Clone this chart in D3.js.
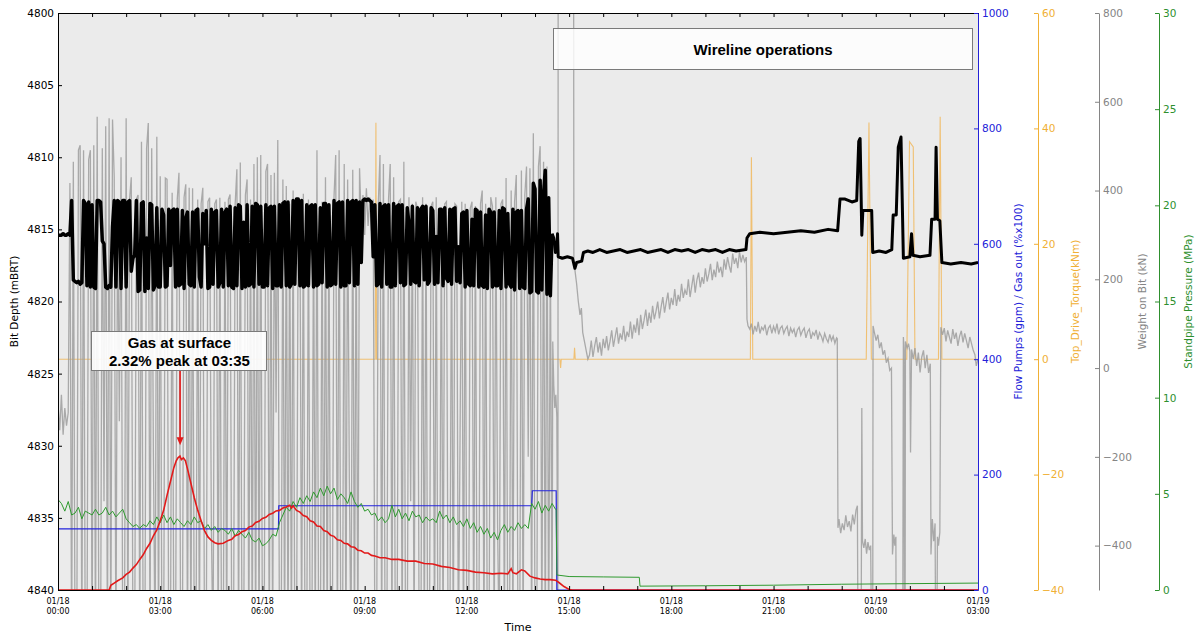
<!DOCTYPE html>
<html>
<head>
<meta charset="utf-8">
<script src="https://cdn.jsdelivr.net/npm/d3@7"></script>
<style>
  body { margin: 0; background: #fff; }
  text { font-family: "DejaVu Sans", sans-serif; }
</style>
</head>
<body>
<svg id="chart" width="1198" height="635"></svg>
<script>
// sample step (hours) of the regularly logged stretches
const drillStep = 0.05;

// Bit depth (mBRT) while drilling, from 00:00
const depthDrill = [
  4815.4,4815.4,4815.4,4815.3,4815.4,4815.4,4815.3,
  4815.4,4813.0,4818.5,4818.6,4818.7,4818.6,4818.8,4818.7,4813.0,4813.2,
  4818.9,4813.1,4819.0,4813.3,4819.0,4819.1,4813.0,4813.0,4813.1,4815.8,
  4816.0,4819.0,4819.1,4818.9,4819.0,4814.8,4813.0,4819.0,4813.0,4813.1,
  4819.1,4813.0,4813.0,4819.0,4813.1,4813.0,4817.9,4817.0,4816.8,4813.0,
  4819.3,4819.2,4813.2,4813.1,4819.3,4815.6,4819.1,4813.2,4813.3,4819.2,
  4818.9,4813.5,4819.0,4819.0,4813.6,4814.0,4819.0,4818.9,4813.6,4817.5,
  4813.7,4813.6,4819.0,4813.6,4818.9,4818.8,4813.7,4819.1,4814.2,4813.8,
  4818.8,4818.9,4813.8,4819.0,4813.7,4813.6,4818.3,4819.0,4813.9,4816.0,
  4813.7,4819.1,4819.0,4813.6,4818.8,4813.8,4813.7,4819.0,4818.7,4813.6,
  4819.0,4813.8,4813.6,4818.9,4813.4,4819.0,4819.1,4813.5,4818.9,4813.3,
  4813.4,4819.1,4814.5,4819.0,4813.3,4818.9,4818.8,4813.4,4819.0,4813.2,
  4813.3,4818.8,4813.4,4819.0,4819.0,4813.3,4818.9,4813.5,4813.4,4819.1,
  4813.4,4818.9,4818.9,4813.3,4819.0,4813.2,4813.1,4818.9,4813.1,4819.0,
  4818.8,4813.0,4818.8,4812.9,4812.9,4818.9,4813.0,4819.0,4818.9,4813.3,
  4818.9,4813.4,4813.3,4819.0,4813.3,4818.9,4818.8,4813.5,4818.7,4813.2,
  4813.2,4819.0,4813.3,4818.9,4818.8,4813.0,4818.8,4813.2,4813.1,4819.0,
  4813.1,4818.9,4818.9,4813.0,4818.7,4813.1,4813.0,4818.9,4813.0,4818.8,
  4813.1,4817.3,4813.0,4812.9,4813.0,4812.9,4813.0,4813.1,4816.9,4813.3,
  4818.9,4818.8,4813.2,4819.0,4813.4,4813.3,4818.8,4813.3,4819.0,4819.0,
  4813.2,4818.9,4813.4,4813.3,4818.7,4813.3,4818.9,4818.8,4813.5,4814.6,
  4818.8,4813.4,4818.6,4818.7,4813.5,4818.9,4813.6,4813.4,4818.5,4813.4,
  4818.8,4818.6,4813.5,4813.7,4818.8,4815.5,4818.7,4813.6,4813.6,4818.9,
  4813.5,4818.4,4818.6,4813.6,4818.8,4813.6,4813.5,4818.6,4816.2,4818.7,
  4813.9,4813.8,4819.0,4813.7,4818.8,4818.9,4814.3,4818.9,4813.6,4813.7,
  4819.0,4813.8,4818.9,4819.0,4814.0,4819.1,4813.6,4813.8,4819.0,4813.8,
  4818.9,4818.9,4813.7,4819.1,4813.5,4813.6,4819.0,4813.9,4818.8,4819.0,
  4813.6,4819.2,4813.8,4813.7,4819.1,4813.7,4819.0,4819.1,4813.6,4812.9,
  4819.4,4819.3,4811.8,4812.2,4819.3,4819.4,4811.6,4819.2,4812.5,4810.9,
  4819.5,4812.8,4819.6,4815.3
];

// Bit depth after pulling off bottom: [hour, mBRT]
const depthTrip = [
  [14.55,4815.6],[14.6,4816.6],[14.64,4816.5],[14.66,4815.3],[14.68,4816.9],[14.8,4817.0],
  [14.95,4816.9],[15.1,4817.0],[15.17,4817.7],[15.22,4817.3],[15.37,4817.2],[15.42,4816.6],
  [15.55,4816.5],[15.7,4816.6],[15.9,4816.4],[16.1,4816.6],[16.3,4816.5],[16.5,4816.4],
  [16.7,4816.6],[16.9,4816.5],[17.1,4816.4],[17.3,4816.6],[17.5,4816.5],[17.7,4816.4],
  [17.9,4816.6],[18.1,4816.4],[18.3,4816.5],[18.5,4816.4],[18.7,4816.6],[18.9,4816.4],
  [19.1,4816.5],[19.3,4816.4],[19.5,4816.6],[19.7,4816.4],[19.9,4816.5],[20.19,4816.4],
  [20.22,4815.6],[20.3,4815.3],[20.6,4815.2],[21.0,4815.3],[21.4,4815.2],[21.8,4815.1],
  [22.2,4815.2],[22.6,4815.0],[22.88,4815.1],[22.95,4812.9],[23.1,4812.9],[23.3,4813.1],
  [23.44,4813.0],[23.5,4808.9],[23.54,4808.7],[23.59,4815.4],[23.62,4813.7],[23.88,4813.7],
  [23.91,4816.6],[24.1,4816.5],[24.3,4816.6],[24.47,4816.4],[24.51,4814.0],[24.6,4814.0],
  [24.66,4809.3],[24.74,4808.6],[24.81,4817.0],[25.0,4816.9],[25.05,4815.3],[25.09,4816.8],
  [25.3,4816.9],[25.59,4816.8],[25.64,4814.3],[25.74,4814.3],[25.77,4809.3],[25.81,4814.3],
  [25.88,4814.4],[25.94,4817.3],[26.2,4817.4],[26.5,4817.3],[26.8,4817.4],[27,4817.3]
];

// Weight on bit (kN) while drilling, from 00:00
const wobDrill = [
  -80,-140,-60,-150,-90,-130,-100,
  417,-650,465,-650,-650,491,502,-650,491,-650,
  -650,470,491,-650,502,-650,566,-650,-650,495,
  -300,545,-650,563,-650,560,430,-650,380,-120,
  475,-650,-650,563,-650,380,430,-650,-650,380,
  390,-650,510,-650,-650,495,552,-650,495,-200,
  -650,521,-650,432,-650,-650,428,425,-650,-650,
  395,-650,-650,380,440,-650,-650,385,414,-650,
  406,-650,405,-650,-650,380,-650,370,406,-650,
  -650,375,384,-350,-650,370,380,-650,384,-650,
  -650,375,-650,380,391,-650,-650,370,448,-650,
  463,-650,-650,390,425,-650,380,-650,460,-650,
  475,-650,480,-650,-650,443,460,-650,435,-650,
  440,-100,514,-650,-650,425,-650,410,-650,370,
  -650,400,-650,-650,380,360,-650,393,-650,-650,
  380,-650,-650,365,-650,491,-650,-650,375,-650,
  430,-650,370,-650,-650,385,480,-650,491,-650,
  -650,460,-650,425,-250,-650,447,-650,375,-650,
  450,330,390,300,405,320,385,310,380,-650,
  -650,370,480,-650,460,-650,-650,380,460,-650,
  430,-650,-650,375,380,-650,465,-650,-650,385,
  -300,370,-650,375,360,-650,-650,385,-650,370,
  -650,-650,365,375,-650,385,-650,-650,360,-650,
  370,375,-650,-650,360,-650,370,365,-650,-150,
  375,-650,370,-650,-650,360,375,-650,365,-650,
  -650,370,400,-650,370,-650,-650,385,365,-650,
  385,-350,-650,370,380,-650,428,-650,-650,400,
  -650,375,435,-650,-650,445,-650,390,454,-200,
  450,-650,529,-650,-650,454,500,-650,465,-650,
  454,-650,300
];

// Weight on bit around the end of drilling: [hour, kN]
const wobTrip = [
  [14.5,-650],[14.52,60],[14.55,-40],[14.58,-90],[14.61,-60],[14.64,-110],[14.67,-650],
  [14.68,1100],[15.13,1100],[15.14,240],[15.18,215],[15.22,190],[15.27,150],[15.32,120],
  [15.36,135],[15.4,80],[15.45,60],[15.5,40],[15.55,20]
];

// Weight on bit, slow climb from 15:36
const wobRampStart = 15.6;
const wobRamp = [
  30,62,25,50,70,35,58,28,66,45,
  72,40,60,85,48,70,92,55,78,64,
  95,60,82,70,105,66,98,80,112,74,
  120,88,108,132,95,125,102,140,110,128,
  150,112,138,160,125,148,170,132,158,142,
  178,140,165,150,190,158,176,165,200,160,
  185,210,170,198,215,182,205,190,225,195,
  212,235,198,222,205,240,215,228,205,245,
  222,250,230,215,258,235,248,225,262,238,
  255,240
];

const wobDrop = [[20.2,250],[20.22,110],[20.25,95]];

// Weight on bit, hold from 20:18
const wobHoldStart = 20.3;
const wobHold = [
  88,100,76,95,82,104,78,92,86,98,
  74,90,96,78,94,82,100,76,90,95,
  78,88,94,72,90,80,88,70,86,92,
  74,84,90,68,82,88,66,80,74,86,
  64,80,72,60,78,66,58,76,62,72,
  56,68
];

// Weight on bit, last hours: [hour, kN]
const wobEnd = [
  [22.87,66],[22.89,-360],[22.92,-340],[22.97,-372],[23.02,-350],[23.07,-365],[23.12,-332],
  [23.17,-358],[23.22,-345],[23.27,-368],[23.32,-330],[23.37,-352],[23.42,-320],[23.46,-310],
  [23.48,-650],[23.57,-650],[23.59,-90],[23.61,-390],[23.65,-405],[23.69,-385],[23.73,-418],
  [23.77,-392],[23.81,-410],[23.85,-400],[23.88,-650],[23.91,-650],[23.92,95],[23.96,80],
  [24.01,62],[24.06,75],[24.11,45],[24.16,58],[24.21,30],[24.26,40],[24.31,12],[24.36,22],
  [24.41,-5],[24.46,0],[24.49,-420],[24.53,-375],[24.56,-400],[24.59,-380],[24.6,-650],
  [24.79,-650],[24.81,70],[24.83,40],[24.84,-650],[24.86,-650],[24.87,60],[24.92,45],
  [24.96,55],[25.0,38],[25.02,-190],[25.05,42],[25.1,20],[25.15,45],[25.2,5],[25.25,35],
  [25.3,-10],[25.35,25],[25.4,40],[25.45,0],[25.5,30],[25.55,-11],[25.6,10],[25.62,-420],
  [25.66,-340],[25.7,-390],[25.74,-350],[25.76,-650],[25.79,-650],[25.81,-380],[25.84,-400],
  [25.88,-370],[25.91,92],[25.96,75],[26.01,90],[26.06,60],[26.11,85],[26.16,70],[26.21,55],
  [26.26,88],[26.31,66],[26.36,80],[26.41,50],[26.46,72],[26.51,84],[26.56,58],[26.61,78],
  [26.66,62],[26.71,45],[26.76,70],[26.81,55],[26.86,40],[26.91,30],[26.95,5],[27,20]
];

// Gas out (%x100): [hour, value]
const gasOut = [
  [0,0],[1.5,0],[1.55,8],[1.65,12],[1.75,16],[1.9,21],[2.0,27],[2.1,31],[2.2,38],[2.3,44],
  [2.4,53],[2.5,61],[2.6,72],[2.7,81],[2.8,94],[2.9,104],[3.0,120],[3.1,138],[3.2,164],
  [3.3,188],[3.4,212],[3.47,224],[3.52,229],[3.58,232],[3.62,226],[3.68,229],[3.74,224],
  [3.8,210],[3.9,185],[4.0,160],[4.1,138],[4.2,120],[4.3,103],[4.4,92],[4.5,86],[4.6,82],
  [4.7,80],[4.85,81],[5.0,86],[5.1,88],[5.2,94],[5.3,96],[5.4,101],[5.5,103],[5.6,109],
  [5.7,111],[5.8,117],[5.9,119],[6.0,124],[6.1,126],[6.2,131],[6.3,133],[6.4,137],
  [6.5,138],[6.6,142],[6.7,144],[6.8,147],[6.85,142],[6.9,146],[7.0,138],[7.1,135],
  [7.2,129],[7.3,127],[7.4,120],[7.5,118],[7.6,111],[7.7,110],[7.8,103],[7.9,101],
  [8.0,95],[8.1,93],[8.2,87],[8.3,86],[8.4,81],[8.5,80],[8.6,75],[8.7,74],[8.8,69],
  [8.9,68],[9.0,64],[9.1,64],[9.2,60],[9.3,59],[9.45,56],[9.6,56],[9.8,53],[10.0,53],
  [10.25,50],[10.5,50],[10.75,46],[11.0,45],[11.25,41],[11.5,39],[11.75,35],[12.0,34],
  [12.25,31],[12.5,30],[12.75,28],[13.0,29],[13.2,28],[13.3,37],[13.35,30],[13.45,28],
  [13.6,35],[13.7,33],[13.85,24],[14.0,21],[14.15,19],[14.3,18],[14.45,18],[14.6,17],
  [14.7,13],[14.85,6],[15.0,1],[15.1,0],[27,0]
];

// Flow pumps (gpm): [hour, value]
const flowPumps = [
  [0,106],[6.47,106],[6.48,146],[13.9,146],[13.92,172],[14.62,172],[14.64,0],[27,0]
];

// Standpipe pressure (MPa) while drilling, every 0.1 h from 00:00
const sppStep = 0.1;
const sppDrill = [
  4.7,4.5,4.1,4.6,3.9,4.0,4.3,3.7,4.1,4.0,
  3.9,4.2,3.9,4.0,4.3,3.9,4.1,3.8,4.0,4.2,
  3.7,3.5,3.3,3.4,3.2,3.4,3.3,3.6,3.4,3.8,
  3.5,3.9,3.5,3.8,3.4,3.7,3.5,3.3,3.6,3.4,
  3.8,3.5,3.6,3.2,3.4,3.1,3.3,3.0,3.2,3.1,
  2.9,3.2,2.8,3.1,2.9,2.7,3.0,2.6,2.5,2.7,
  2.3,2.4,2.6,2.9,2.8,3.5,3.9,4.3,4.1,4.6,
  4.3,4.8,4.5,4.9,4.6,5.1,4.8,5.3,4.9,5.4,
  5.0,5.3,4.7,5.0,4.8,4.5,5.1,4.6,4.3,4.5,
  4.1,4.2,3.9,4.0,3.6,3.8,3.5,3.7,4.4,3.8,
  4.2,3.7,4.0,3.6,4.1,3.8,3.9,3.5,3.8,3.6,
  3.7,3.5,4.1,3.7,3.9,3.5,3.8,3.4,3.6,3.3,
  3.7,3.2,3.5,3.0,3.3,2.9,3.2,2.7,3.0,2.6,
  3.1,3.4,3.0,3.3,3.1,3.5,3.2,3.4,3.2,4.5,
  4.2,4.6,4.0,4.4,4.1,4.5,4.2
];

const sppTrip = [
  [14.62,4.2],[14.64,0.78],[15.0,0.7],[16.0,0.68],[17.06,0.66],[17.08,0.2],
  [19,0.22],[21,0.25],[23,0.3],[25,0.33],[27,0.36]
];

// Top drive torque (kNm): [hour, value]
const torque = [
  [0,0],[9.31,0],[9.33,41],[9.35,0],[14.73,0],[14.75,-1.5],[14.77,0],[15.14,0],[15.16,2],
  [15.18,0],[20.32,0],[20.35,35],[20.39,0],[23.72,0],[23.8,41],[23.87,0],[24.91,0],
  [24.99,37.7],[25.1,36.8],[25.15,0],[25.84,0],[25.89,42],[25.94,0],[27,0]
];

const depthTicks = [4800, 4805, 4810, 4815, 4820, 4825, 4830, 4835, 4840];
const flowTicks = [0, 200, 400, 600, 800, 1000];
const torqueTicks = [-40, -20, 0, 20, 40, 60];
const wobTicks = [-400, -200, 0, 200, 400, 600, 800];
const sppTicks = [0, 5, 10, 15, 20, 25, 30];

const gasNote = ["Gas at surface", "2.32% peak at 03:35"];
const gasPeak = [3.583, 232];
const wirelineNote = "Wireline operations";

// ---------------------------------------------------------------

const plotLeft = 58, plotRight = 978, plotTop = 13, plotBottom = 590;
const t0 = new Date(2016, 0, 18, 0, 0);
const toDate = h => new Date(t0.getTime() + h * 3600e3);
const stepped = (start, step, vals) => vals.map((v, i) => [start + i * step, v]);

const depthDrillSeries = stepped(0, drillStep, depthDrill);
const depthTripSeries = depthDrillSeries.slice(-1).concat(depthTrip);
const wobSeries = stepped(0, drillStep, wobDrill)
  .concat(wobTrip, stepped(wobRampStart, drillStep, wobRamp), wobDrop,
          stepped(wobHoldStart, drillStep, wobHold), wobEnd);
const sppSeries = stepped(0, sppStep, sppDrill).concat(sppTrip);

const x = d3.scaleTime().domain([toDate(0), toDate(27)]).range([plotLeft, plotRight]);
const yDepth = d3.scaleLinear().domain([4800, 4840]).range([plotTop, plotBottom]);
const yFlow = d3.scaleLinear().domain([0, 1000]).range([plotBottom, plotTop]);
const yTorque = d3.scaleLinear().domain([-40, 60]).range([plotBottom, plotTop]);
const yWob = d3.scaleLinear().domain([-500, 800]).range([plotBottom, plotTop]);
const ySpp = d3.scaleLinear().domain([0, 30]).range([plotBottom, plotTop]);

const svg = d3.select("#chart");

svg.append("rect")
  .attr("width", 1198).attr("height", 635).attr("fill", "#fff");

svg.append("defs").append("clipPath").attr("id", "plotClip")
  .append("rect")
  .attr("x", plotLeft).attr("y", plotTop)
  .attr("width", plotRight - plotLeft).attr("height", plotBottom - plotTop);

svg.append("rect")
  .attr("x", plotLeft).attr("y", plotTop)
  .attr("width", plotRight - plotLeft).attr("height", plotBottom - plotTop)
  .attr("fill", "#ebebeb");

const plot = svg.append("g").attr("clip-path", "url(#plotClip)");

const lineFor = yScale => d3.line()
  .x(d => x(toDate(d[0])))
  .y(d => yScale(d[1]));

plot.append("path")
  .attr("d", lineFor(yTorque)(torque))
  .attr("fill", "none").attr("stroke", "#f2b24a").attr("stroke-opacity", 0.75)
  .attr("stroke-width", 1.1);

plot.append("path")
  .attr("d", lineFor(yWob)(wobSeries))
  .attr("fill", "none").attr("stroke", "#999").attr("stroke-opacity", 0.8)
  .attr("stroke-width", 1.3);

plot.append("path")
  .attr("d", lineFor(yFlow)(flowPumps))
  .attr("fill", "none").attr("stroke", "#2424dd").attr("stroke-width", 1.2);

plot.append("path")
  .attr("d", lineFor(ySpp)(sppSeries))
  .attr("fill", "none").attr("stroke", "#2f9a2f").attr("stroke-width", 1);

plot.append("path")
  .attr("d", lineFor(yFlow)(gasOut))
  .attr("fill", "none").attr("stroke", "#e21a1a").attr("stroke-width", 1.6);

plot.append("path")
  .attr("d", lineFor(yDepth)(depthDrillSeries))
  .attr("fill", "none").attr("stroke", "#000").attr("stroke-width", 3.5)
  .attr("stroke-linejoin", "round");

plot.append("path")
  .attr("d", lineFor(yDepth)(depthTripSeries))
  .attr("fill", "none").attr("stroke", "#000").attr("stroke-width", 3)
  .attr("stroke-linejoin", "round");

// axes
const hourTicks = d3.timeHour.every(1);
const intFmt = d3.format("d");

svg.append("g")
  .attr("transform", `translate(0,${plotBottom})`)
  .call(d3.axisBottom(x).ticks(hourTicks).tickSizeInner(-4).tickSizeOuter(0).tickFormat(""));

svg.append("g")
  .attr("transform", `translate(0,${plotTop})`)
  .call(d3.axisTop(x).ticks(hourTicks).tickSizeInner(-4).tickSizeOuter(0).tickFormat(""));

const fmtDay = d3.timeFormat("%m/%d");
const fmtTime = d3.timeFormat("%H:%M");
const labelTicks = d3.range(0, 28, 3).map(toDate);
const xLabels = svg.append("g").selectAll("text")
  .data(labelTicks).enter().append("text")
  .attr("x", d => x(d))
  .attr("text-anchor", "middle")
  .style("font-size", "8px");
xLabels.append("tspan").attr("x", d => x(d)).attr("y", 604).text(d => fmtDay(d));
xLabels.append("tspan").attr("x", d => x(d)).attr("y", 614).text(d => fmtTime(d));

svg.append("g")
  .attr("transform", `translate(${plotLeft},0)`)
  .call(d3.axisLeft(yDepth).tickValues(depthTicks).tickFormat(intFmt)
    .tickSizeInner(-4).tickSizeOuter(0).tickPadding(4))
  .call(g => g.selectAll("text").style("font-size", "10.5px"));

const rightAxis = (scale, ticks, xPos, color) => {
  svg.append("g")
    .attr("transform", `translate(${xPos},0)`)
    .call(d3.axisRight(scale).tickValues(ticks).tickFormat(intFmt)
      .tickSizeInner(-4).tickSizeOuter(0).tickPadding(4))
    .call(g => g.select(".domain").attr("stroke", color))
    .call(g => g.selectAll(".tick line").attr("stroke", color))
    .call(g => g.selectAll("text").attr("fill", color).style("font-size", "10.5px"));
};
rightAxis(yFlow, flowTicks, plotRight, "#2222d8");
rightAxis(yTorque, torqueTicks, 1038, "#f0b035");
rightAxis(yWob, wobTicks, 1099, "#858585");
rightAxis(ySpp, sppTicks, 1159, "#2e8f2e");

const axisTitle = (label, xPos, color) => {
  svg.append("text")
    .attr("transform", `translate(${xPos},${(plotTop + plotBottom) / 2}) rotate(-90)`)
    .attr("text-anchor", "middle")
    .attr("dominant-baseline", "central")
    .attr("fill", color)
    .style("font-size", "10.5px")
    .text(label);
};
axisTitle("Bit Depth (mBRT)", 14, "#000");
axisTitle("Flow Pumps (gpm) / Gas out (%x100)", 1018, "#2222d8");
axisTitle("Top_Drive_Torque(kNm)", 1075, "#f0b035");
axisTitle("Weight on Bit (kN)", 1142, "#858585");
axisTitle("Standpipe Pressure (MPa)", 1188, "#2e8f2e");

svg.append("text")
  .attr("x", (plotLeft + plotRight) / 2).attr("y", 631)
  .attr("text-anchor", "middle")
  .style("font-size", "11px")
  .text("Time");

// annotations
const noteFont = "'Liberation Sans', Arial, sans-serif";

svg.append("rect")
  .attr("x", 553.5).attr("y", 28.5).attr("width", 419).attr("height", 41)
  .attr("fill", "#fff").attr("fill-opacity", 0.82)
  .attr("stroke", "#7a7a7a").attr("stroke-width", 1);
svg.append("text")
  .attr("x", 763).attr("y", 55)
  .attr("text-anchor", "middle")
  .style("font-family", noteFont).style("font-weight", "bold").style("font-size", "15px")
  .text(wirelineNote);

const arrowX = x(toDate(gasPeak[0]));
const arrowTip = yFlow(gasPeak[1]) - 11;
svg.append("line")
  .attr("x1", arrowX).attr("x2", arrowX)
  .attr("y1", 371).attr("y2", arrowTip - 7)
  .attr("stroke", "#e21a1a").attr("stroke-width", 1.6);
svg.append("path")
  .attr("d", `M${arrowX - 3.5},${arrowTip - 8} L${arrowX + 3.5},${arrowTip - 8} L${arrowX},${arrowTip} Z`)
  .attr("fill", "#e21a1a");

svg.append("rect")
  .attr("x", 91.5).attr("y", 331.5).attr("width", 175).attr("height", 39)
  .attr("fill", "#fff").attr("fill-opacity", 0.9)
  .attr("stroke", "#7a7a7a").attr("stroke-width", 1);
svg.append("g").selectAll("text")
  .data(gasNote).enter().append("text")
  .attr("x", 179.5)
  .attr("y", (d, i) => 348 + i * 18)
  .attr("text-anchor", "middle")
  .style("font-family", noteFont).style("font-weight", "bold").style("font-size", "15px")
  .text(d => d);
</script>
</body>
</html>
